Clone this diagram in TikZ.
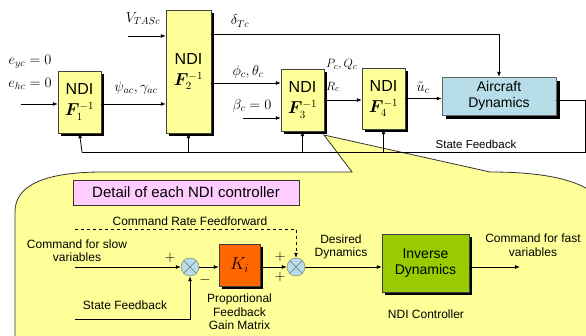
\documentclass[tikz,border=0pt]{standalone}
\usepackage{amsmath,amssymb,bm}
\usepackage{fontspec}
\setmainfont{Liberation Sans}
\usepackage{xcolor}
\usetikzlibrary{arrows.meta,positioning,shadows}

\definecolor{ndiyel}{HTML}{FFFF99}
\definecolor{acblue}{HTML}{B7DEE8}
\definecolor{korange}{HTML}{FF6600}
\definecolor{invgreen}{HTML}{99CC00}
\definecolor{ttlpink}{HTML}{FFCCFF}
\definecolor{callyel}{HTML}{FFFF99}

\begin{document}
\begin{tikzpicture}[x=1pt,y=-1pt,
  ndi/.style={draw=black!75,fill=ndiyel,minimum width=43pt,minimum height=62pt,align=center,
    font=\fontsize{16}{21}\selectfont,general shadow={fill=black,shadow xshift=3pt,shadow yshift=-3pt}},
  plant/.style={draw=black!60,fill=acblue,minimum width=114pt,minimum height=38pt,align=center,
    font=\fontsize{14}{15.5}\selectfont,general shadow={fill=black,shadow xshift=4pt,shadow yshift=-4pt}},
  gain/.style={draw=black!75,fill=korange,minimum width=41pt,minimum height=42pt,
    general shadow={fill=black,shadow xshift=3pt,shadow yshift=-3pt}},
  inv/.style={draw=black!75,fill=invgreen,minimum width=87pt,minimum height=58pt,align=center,
    font=\fontsize{14}{16}\selectfont,general shadow={fill=black,shadow xshift=3pt,shadow yshift=-3pt}},
  sum/.style={circle,draw=black!55,fill=acblue,minimum size=18pt,inner sep=0pt,
    path picture={\draw[black!55] (path picture bounding box.south west) -- (path picture bounding box.north east)
      (path picture bounding box.north west) -- (path picture bounding box.south east);}},
  arr/.style={-{Latex[length=5pt,width=4pt]},thick},
  sig/.style={font=\fontsize{14}{16}\selectfont},
  txt/.style={font=\fontsize{12}{13.5}\selectfont,align=center},
]
  \useasboundingbox (0,0) rectangle (586,336);

  % Callout
  \begin{scope}
    \clip (0,0) rectangle (586,336);
    \draw[fill=callyel,draw=black!80,thick] (324,135) -- (352,172) -- (103,172)
      .. controls (45,172) and (15,185) .. (15,212) -- (15,400) -- (610,400) -- (610,220)
      .. controls (605,185) and (560,172) .. (490,172) -- cycle;
  \end{scope}

  % Top chain
  \node[ndi] (f1) at (79.5,102)  {NDI\\$\bm{F}_1^{-1}$};
  \node[ndi,minimum width=45pt,minimum height=123pt] (f2) at (188.5,71.5) {NDI\\$\bm{F}_2^{-1}$};
  \node[ndi] (f3) at (302.5,100) {NDI\\$\bm{F}_3^{-1}$};
  \node[ndi,minimum height=61pt] (f4) at (383.5,98.5) {NDI\\$\bm{F}_4^{-1}$};
  \node[plant] (ac) at (499,96) {Aircraft\\Dynamics};

  \node[sig] (eyc) at (30,62) {$e_{yc}=0$};
  \node[sig] (ehc) at (30,84) {$e_{hc}=0$};
  \node[sig] (vtas) at (143,19) {$V_{TASc}$};
  \node[sig] (psi) at (136,88) {$\psi_{ac},\gamma_{ac}$};
  \node[sig] (dtc) at (240,21) {$\delta_{Tc}$};
  \node[sig] (phi) at (248,72) {$\phi_c,\theta_c$};
  \node[sig] (beta) at (252,106) {$\beta_c=0$};
  \node[sig,anchor=west,font=\fontsize{13}{15}\selectfont,inner sep=1pt] (pq) at (325,65) {$P_c,Q_c$};
  \node[sig,anchor=west,font=\fontsize{13}{15}\selectfont,inner sep=1pt] (rc) at (325,87) {$R_c$};
  \node[sig] (uc) at (423,88) {$\tilde{u}_c$};
  \node[font=\fontsize{11.5}{13}\selectfont] (sfbl) at (476,144) {State Feedback};

  \coordinate (ein) at (21,104);
  \coordinate (vin) at (128,36);
  \coordinate (bin) at (243,118);
  \coordinate (f3a) at ([yshift=17pt]f3.west);
  \coordinate (dt) at (211,34);
  \coordinate (fbr) at (585,152);
  \coordinate (fbl) at (82,152);

  \draw[arr] (ein) -- (ein -| f1.west);
  \draw[arr] (vin) -- (vin -| f2.west);
  \draw[arr] (f1.east |- ein) -- (ein -| f2.west);
  \draw[arr] (dt) -| (ac.north);
  \draw[arr] (f3a -| f2.east) -- (f3a);
  \draw[arr] (bin) -- (bin -| f3.west);
  \draw[arr] (f3.east) -- (f3.east -| f4.west);
  \draw[arr] (f4.east) -- (f4.east -| ac.west);
  \draw[thick] (ac.east |- 0,100) -| (fbr) -- (fbl);
  \draw[arr] (fbl) -- (f1.south);
  \draw[arr] (fbl -| f2.south) -- (f2.south);
  \draw[arr] (fbl -| f3.south) -- (f3.south);
  \draw[arr] (fbl -| f4.south) -- (f4.south);

  % Detail of each NDI controller
  \node[draw=black!80,fill=ttlpink,minimum width=226pt,minimum height=25pt,
    font=\fontsize{15}{18}\selectfont] (ttl) at (186,192.5) {Detail of each NDI controller};
  \node[sum] (s1) at (190,267) {};
  \node[sum] (s2) at (296,267) {};
  \node[gain] (kg) at (239.5,265) {\fontsize{18}{20}\selectfont$K_i$};
  \node[inv] (id) at (425.5,263) {Inverse\\Dynamics};

  \node[txt] (crf) at (190,221) {Command Rate Feedforward};
  \node[txt] (cslow) at (77,250.5) {Command for slow\\variables};
  \node[txt] (sfb) at (125,305) {State Feedback};
  \node[txt] (pfg) at (239.5,312) {Proportional\\Feedback\\Gain Matrix};
  \node[txt] (dd) at (341,247) {Desired\\Dynamics};
  \node[txt] (cfast) at (533,245) {Command for fast\\variables};
  \node[txt] (ndic) at (426,314) {NDI Controller};
  \node[sig] (p1) at (170,258) {$+$};
  \node[sig] (m1) at (205,280) {$-$};
  \node[sig] (p2) at (280,257) {$+$};
  \node[sig] (p3) at (280,277) {$+$};

  \coordinate (cin) at (75,267);
  \coordinate (sin) at (75,319);
  \coordinate (ffin) at (75,229);
  \coordinate (cout) at (520,267);

  \draw[arr] (cin) -- (s1.west);
  \draw[arr] (sin) -| (s1.south);
  \draw[arr,dashed] (ffin) -| (s2.north);
  \draw[arr] (s1.east) -- (s1.east -| kg.west);
  \draw[arr] (s1.east -| kg.east) -- (s2.west);
  \draw[arr] (s2.east) -- (s2.east -| id.west);
  \draw[arr] (s2.east -| id.east) -- (cout);
\end{tikzpicture}
\end{document}
